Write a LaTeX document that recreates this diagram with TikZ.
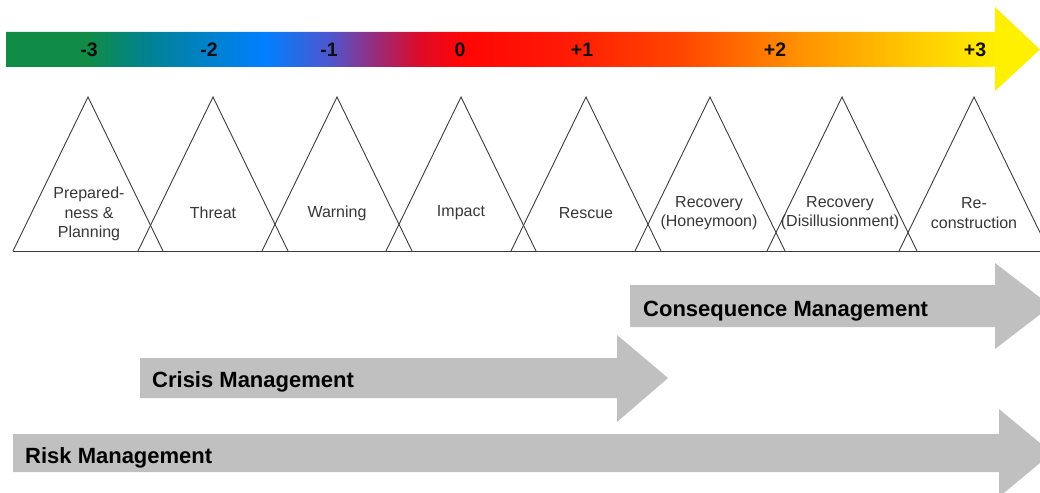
\documentclass[tikz,border=0pt]{standalone}
\usepackage{fontspec}
\setmainfont{Liberation Sans}
\definecolor{cgreen}{RGB}{16,140,70}
\definecolor{cteal}{RGB}{0,130,150}
\definecolor{cblue}{RGB}{0,128,255}
\definecolor{cblpur}{RGB}{80,85,205}
\definecolor{cpurple}{RGB}{150,45,125}
\definecolor{ccrimson}{RGB}{222,10,40}
\definecolor{cred}{RGB}{255,5,5}
\definecolor{cred2}{RGB}{255,25,5}
\definecolor{corred}{RGB}{255,70,0}
\definecolor{corange}{RGB}{255,145,0}
\definecolor{cyelor}{RGB}{255,205,0}
\definecolor{cyellow}{RGB}{255,240,0}
\definecolor{arrowgray}{RGB}{192,192,192}
\definecolor{triline}{RGB}{60,60,60}
\definecolor{labtext}{RGB}{55,55,55}
\definecolor{numtext}{RGB}{20,15,15}
\pgfdeclarehorizontalshading{phaseshade}{100bp}{%
  color(0bp)=(cgreen); color(25bp)=(cgreen); color(29bp)=(cgreen);
  color(32bp)=(cteal); color(37.5bp)=(cblue); color(40.7bp)=(cblpur);
  color(42.8bp)=(cpurple); color(45bp)=(ccrimson); color(47bp)=(cred);
  color(51.8bp)=(cred2); color(57.6bp)=(corred); color(63.4bp)=(corange);
  color(69.2bp)=(cyelor); color(73bp)=(cyellow); color(75bp)=(cyellow);
  color(100bp)=(cyellow)}
\begin{document}
\begin{tikzpicture}[x=1pt,y=-1pt,
  tri/.style={draw=triline,line width=0.9pt,line join=miter},
  phaselab/.style={text=labtext,align=center,inner sep=0pt,font=\fontsize{16}{19.5}\selectfont},
  numlab/.style={text=numtext,inner sep=0pt,font=\bfseries\fontsize{19.5}{21}\selectfont},
  mgmtlab/.style={text=black,inner sep=0pt,anchor=base west,font=\bfseries\fontsize{22}{24}\selectfont},
  grayarrow/.style={fill=arrowgray,draw=none}]
\useasboundingbox (0,0) rectangle (1040,492);
\clip (0,0) rectangle (1040,492);
% top gradient arrow
\shade[shading=phaseshade] (6,32) -- (995,32) -- (995,7) -- (1040,49.5) -- (995,91) -- (995,67) -- (6,67) -- cycle;
\node[numlab] (nm3) at (89,50) {-3};
\node[numlab] (nm2) at (209,50) {-2};
\node[numlab] (nm1) at (329,50) {-1};
\node[numlab] (n0)  at (460,50) {0};
\node[numlab] (np1) at (582,50) {+1};
\node[numlab] (np2) at (775,50) {+2};
\node[numlab] (np3) at (975,50) {+3};
% triangles
\foreach \ax in {88,213,337,461,586,710,842,974}{
  \draw[tri] (\ax-75,251) -- (\ax,97) -- (\ax+75,251);
}
\draw[tri] (13,251) -- (1040,251);
\node[phaselab] (prep) at (89,214) {Prepared-\\ness \&\\Planning};
\node[phaselab] (threat) at (213,213) {Threat};
\node[phaselab] (warn) at (337,213) {Warning};
\node[phaselab] (impact) at (461,213) {Impact};
\node[phaselab] (rescue) at (586,213) {Rescue};
\node[phaselab] (recH) at (709,213) {Recovery\\(Honeymoon)};
\node[phaselab] (recD) at (840,213) {Recovery\\(Disillusionment)};
\node[phaselab] (recon) at (974,213) {Re-\\construction};
% management arrows
\fill[grayarrow] (630,285) -- (995,285) -- (995,263) -- (1051,306) -- (995,349) -- (995,327) -- (630,327) -- cycle;
\node[mgmtlab] (cons) at (643,316) {Consequence Management};
\fill[grayarrow] (140,358) -- (617,358) -- (617,335) -- (668,378) -- (617,422) -- (617,398) -- (140,398) -- cycle;
\node[mgmtlab] (crisis) at (152,387) {Crisis Management};
\fill[grayarrow] (13,434) -- (999,434) -- (999,409) -- (1052,453) -- (999,497) -- (999,472) -- (13,472) -- cycle;
\node[mgmtlab] (risk) at (25,463) {Risk Management};
\end{tikzpicture}
\end{document}
